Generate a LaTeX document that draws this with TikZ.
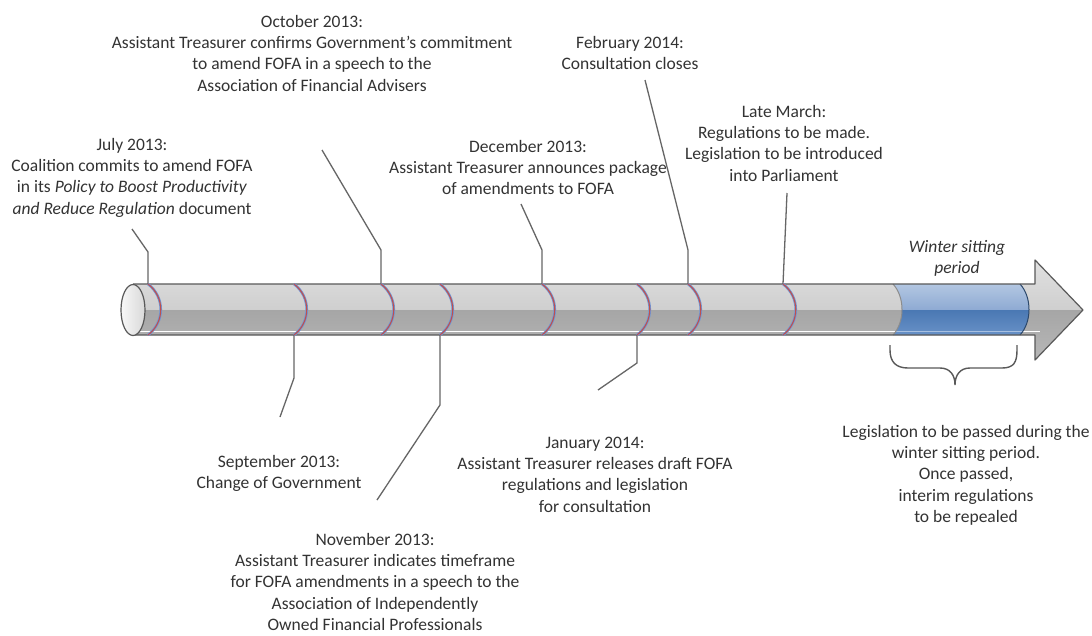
\documentclass[tikz,border=0pt]{standalone}
\usepackage{fontspec}
\setmainfont{Carlito}
\definecolor{txt}{HTML}{333333}
\definecolor{lead}{HTML}{666666}
\definecolor{outlc}{HTML}{595959}
\definecolor{bodyTa}{HTML}{E2E2E2}
\definecolor{bodyTb}{HTML}{CFCFCF}
\definecolor{bodyBa}{HTML}{A6A6A6}
\definecolor{bodyBb}{HTML}{B9B9B9}
\definecolor{blueTa}{HTML}{B8CBE4}
\definecolor{blueTb}{HTML}{8EAAD3}
\definecolor{blueBa}{HTML}{4A78B3}
\definecolor{blueBb}{HTML}{6E96CB}
\definecolor{ringblue}{HTML}{6F95D6}
\definecolor{ringred}{HTML}{C0504D}
\newcommand{\tstr}{\rule{0pt}{14pt}}
\begin{document}
\begin{tikzpicture}[x=1pt,y=-1pt,
  lbl/.style={align=center,anchor=north,inner sep=0pt,text=txt,font=\fontsize{17.5pt}{21.3pt}\selectfont},
  leader/.style={draw=lead,line width=1.3pt},
  ringb/.style={draw=ringblue,line width=2.6pt},
  ringr/.style={draw=ringred,line width=1.1pt},
  outline/.style={draw=outlc,line width=1.2pt},
  bracestyle/.style={draw=outlc,line width=1.4pt}]
\useasboundingbox (0,0) rectangle (1092,635);
\fill[white] (0,0) rectangle (1092,635);

% ring anchor coordinates
\foreach \x [count=\i] in {148,294,381,440,542,637,688,783}{
  \coordinate (rt\i) at (\x,284);
  \coordinate (rb\i) at (\x,335);
}

% text nodes
\node[lbl] (jul) at (132,136) {\tstr July 2013:\\Coalition commits to amend FOFA\\in its \textit{Policy to Boost Productivity}\\\textit{and Reduce Regulation} document};
\node[lbl] (oct) at (312,13) {\tstr October 2013:\\Assistant Treasurer confirms Government's commitment\\to amend FOFA in a speech to the\\Association of Financial Advisers};
\node[lbl] (feb) at (630,34) {\tstr February 2014:\\Consultation closes};
\node[lbl] (dec) at (528,138) {\tstr December 2013:\\Assistant Treasurer announces package\\of amendments to FOFA};
\node[lbl] (mar) at (784,103) {\tstr Late March:\\Regulations to be made.\\Legislation to be introduced\\into Parliament};
\node[lbl] (win) at (957,238) {\tstr\textit{Winter sitting}\\\textit{period}};
\node[lbl] (sep) at (279,453) {\tstr September 2013:\\Change of Government};
\node[lbl] (jan) at (595,434) {\tstr January 2014:\\Assistant Treasurer releases draft FOFA\\regulations and legislation\\for consultation};
\node[lbl] (nov) at (375,531) {\tstr November 2013:\\Assistant Treasurer indicates timeframe\\for FOFA amendments in a speech to the\\Association of Independently\\Owned Financial Professionals};
\node[lbl] (leg) at (966,423) {\tstr Legislation to be passed during the\\winter sitting period.\\Once passed,\\interim regulations\\to be repealed};

% leader bends and ends
\coordinate (julb) at (148,252); \coordinate (jule) at (132,229);
\coordinate (sepb) at (294,378); \coordinate (sepe) at (280,417);
\coordinate (octb) at (381,250); \coordinate (octe) at (322,150);
\coordinate (novb) at (440,405); \coordinate (nove) at (377,500);
\coordinate (decb) at (542,250); \coordinate (dece) at (521,204);
\coordinate (janb) at (637,363); \coordinate (jane) at (598,390);
\coordinate (febb) at (688,250); \coordinate (febe) at (645,80);
\coordinate (mare) at (787,193);

\draw[leader] (rt1) -- (julb) -- (jule);
\draw[leader] (rb2) -- (sepb) -- (sepe);
\draw[leader] (rt3) -- (octb) -- (octe);
\draw[leader] (rb4) -- (novb) -- (nove);
\draw[leader] (rt5) -- (decb) -- (dece);
\draw[leader] (rb6) -- (janb) -- (jane);
\draw[leader] (rt7) -- (febb) -- (febe);
\draw[leader] (rt8) -- (mare);

% arrow body shading
\begin{scope}
  \clip (133,284) -- (1035,284) -- (1035,260) -- (1083,310) -- (1035,360) -- (1035,335) -- (133,335) -- cycle;
  \shade[top color=bodyTa,bottom color=bodyTb] (120,255) rectangle (1090,310);
  \shade[top color=bodyBa,bottom color=bodyBb] (120,310) rectangle (1090,365);
  \draw[white,line width=1.1pt] (120,331.5) -- (1040,331.5);
\end{scope}

% blue section
\begin{scope}
  \clip (893,284) -- (1020,284) .. controls (1032,297) and (1032,322) .. (1020,335) -- (893,335) .. controls (905,322) and (905,297) .. (893,284) -- cycle;
  \shade[top color=blueTa,bottom color=blueTb] (880,280) rectangle (1040,310);
  \shade[top color=blueBa,bottom color=blueBb] (880,310) rectangle (1040,340);
  \draw[blueBb!60!white,line width=1pt] (880,331.5) -- (1040,331.5);
\end{scope}
\draw[draw=black!45,line width=1pt] (893,284) .. controls (905,297) and (905,322) .. (893,335);
\draw[draw=black!40!blueBa,line width=1pt] (1020,284) .. controls (1032,297) and (1032,322) .. (1020,335);

% outline
\draw[outline,line join=round] (133,284) -- (1035,284) -- (1035,260) -- (1083,310) -- (1035,360) -- (1035,335) -- (133,335);

% end cap
\shade[left color=white!97!black,right color=black!15] (133,310) ellipse [x radius=12,y radius=25.5];
\draw[outline] (133,310) ellipse [x radius=12,y radius=25.5];

% rings
\foreach \i in {1,...,8}{
  \draw[ringb] (rt\i) .. controls ++(17,13) and ++(17,-13) .. (rb\i);
  \draw[ringr] (rt\i) .. controls ++(17,13) and ++(17,-13) .. (rb\i);
}

% brace
\draw[bracestyle] (890,345) -- (890,350) .. controls (890,362) and (896,368) .. (908,368) -- (940,368) .. controls (950,368) and (955,375) .. (955,385) .. controls (955,375) and (960,368) .. (970,368) -- (1002,368) .. controls (1014,368) and (1017,362) .. (1017,350) -- (1017,345);
\end{tikzpicture}
\end{document}
